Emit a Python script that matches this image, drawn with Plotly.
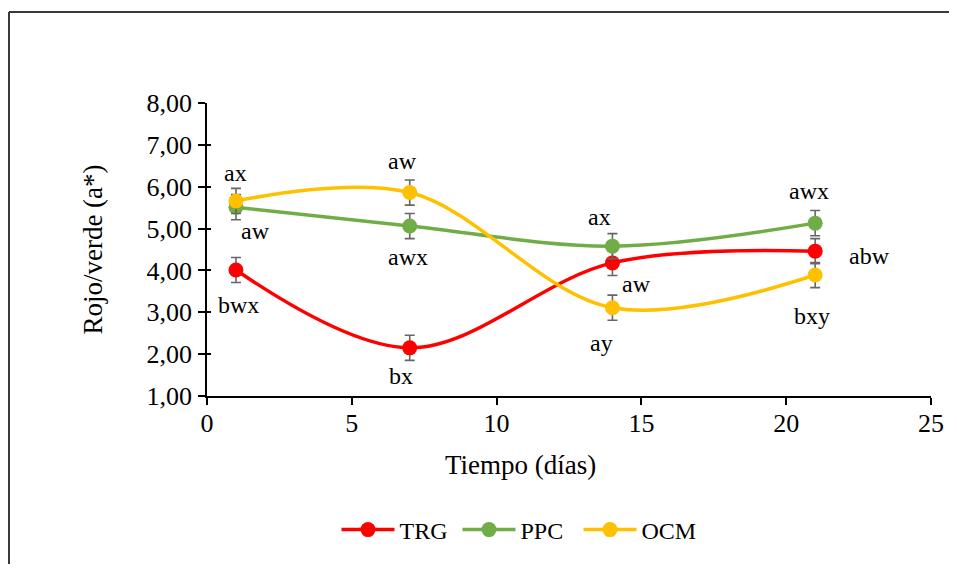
import plotly.graph_objects as go

# ---- data ----
dias = [1, 7, 14, 21]
series_names = ["TRG", "PPC", "OCM"]
trg = [4.01, 2.15, 4.18, 4.46]
ppc = [5.51, 5.06, 4.58, 5.13]
ocm = [5.66, 5.86, 3.11, 3.89]
trg_err = [0.30, 0.30, 0.30, 0.30]
ppc_err = [0.30, 0.30, 0.30, 0.30]
ocm_err = [0.30, 0.30, 0.30, 0.30]
trg_lbl = ["bwx", "bx", "aw", "abw"]
ppc_lbl = ["aw", "awx", "ax", "awx"]
ocm_lbl = ["ax", "aw", "ay", "bxy"]
colors = ["#FF0000", "#70AD47", "#FFC000"]
x_title = "Tiempo (días)"
y_title = "Rojo/verde (a*)"

# label pixel offsets (dx, dy; dy positive = down)
trg_off = [(3, 35), (-9, 28), (24, 21), (54, 5)]
ppc_off = [(20, 24), (-2, 31), (-13, -29), (-6, -32)]
ocm_off = [(0, -28), (-7, -32), (-11, 35), (-3, 41)]

FONT = "Liberation Serif, Times New Roman, serif"
FS = 24
FS_TICK = 26
FS_TITLE = 27

W, H = 949, 556

fig = go.Figure()
all_vals = [trg, ppc, ocm]
all_err = [trg_err, ppc_err, ocm_err]
all_lbl = [trg_lbl, ppc_lbl, ocm_lbl]
all_off = [trg_off, ppc_off, ocm_off]

for name, vals, err, col in zip(series_names, all_vals, all_err, colors):
    fig.add_trace(go.Scatter(
        x=dias, y=vals, name=name, mode="lines+markers",
        line=dict(color=col, width=3.5, shape="spline", smoothing=1.0),
        marker=dict(color=col, size=15, symbol="circle"),
        error_y=dict(type="data", array=err, visible=True,
                     color="#666666", thickness=1.6, width=5),
    ))

for vals, lbls, offs in zip(all_vals, all_lbl, all_off):
    for xv, yv, t, (dx, dy) in zip(dias, vals, lbls, offs):
        fig.add_annotation(x=xv, y=yv, text=t, showarrow=False,
                           xshift=dx, yshift=-dy,
                           font=dict(family=FONT, size=FS, color="black"))

# plot-area position in figure pixels (page has an 8px body margin)
L, R, T, B = 199, 923, 95, 388
def px_x(p):
    return (p - L) / (R - L)
def px_y(p):
    return (B - p) / (B - T)

# x-axis title (centred slightly left of the plot centre, as in the reference)
fig.add_annotation(xref="paper", yref="paper", x=px_x(512), y=px_y(457),
                   xanchor="center", yanchor="middle", showarrow=False,
                   text=x_title, font=dict(family=FONT, size=FS_TITLE, color="black"))

# outer chart border: only top and left edges are visible in the reference
border = dict(color="#3a3a3a", width=2)
fig.add_shape(type="line", xref="paper", yref="paper",
              x0=px_x(1), x1=px_x(1000), y0=px_y(4), y1=px_y(4),
              line=border, layer="below")
fig.add_shape(type="line", xref="paper", yref="paper",
              x0=px_x(1), x1=px_x(1), y0=px_y(4), y1=px_y(620),
              line=border, layer="below")

fig.update_layout(
    width=W, height=H,
    margin=dict(l=L, r=W - R, t=T, b=H - B),
    paper_bgcolor="white", plot_bgcolor="white",
    separators=",.",
    font=dict(family=FONT, size=FS, color="black"),
    showlegend=True,
    legend=dict(orientation="h", xref="container", yref="container",
                x=510 / W, xanchor="center", y=1 - 522 / H, yanchor="middle",
                font=dict(family=FONT, size=FS, color="black"),
                itemwidth=53, entrywidth=53, entrywidthmode="pixels",
                tracegroupgap=0, bgcolor="rgba(0,0,0,0)"),
    xaxis=dict(range=[0, 25], tickvals=[0, 5, 10, 15, 20, 25],
               showgrid=False, zeroline=False, showline=True,
               linecolor="black", linewidth=1.5,
               ticks="outside", ticklen=7, tickcolor="black", tickwidth=1.5,
               ticklabelstandoff=-4,
               tickfont=dict(family=FONT, size=FS_TICK)),
    yaxis=dict(range=[1, 8], tickvals=[1, 2, 3, 4, 5, 6, 7, 8], tickformat=".2f",
               showgrid=False, zeroline=False, showline=True,
               linecolor="black", linewidth=1.5,
               ticks="outside", ticklen=7, tickcolor="black", tickwidth=1.5,
               ticklabelstandoff=1,
               tickfont=dict(family=FONT, size=FS_TICK),
               title=dict(text=y_title, font=dict(family=FONT, size=FS_TITLE), standoff=36)),
    yaxis2=dict(range=[1, 8], tickvals=[1, 2, 3, 4, 5, 6, 7, 8], overlaying="y",
                side="left", anchor="x", showgrid=False, zeroline=False,
                showline=False, ticks="inside", ticklen=4, tickcolor="black",
                tickwidth=1.5, showticklabels=False),
)
fig.add_trace(go.Scatter(x=[None], y=[None], yaxis="y2", showlegend=False, hoverinfo="skip"))

fig.write_html("out.html")
